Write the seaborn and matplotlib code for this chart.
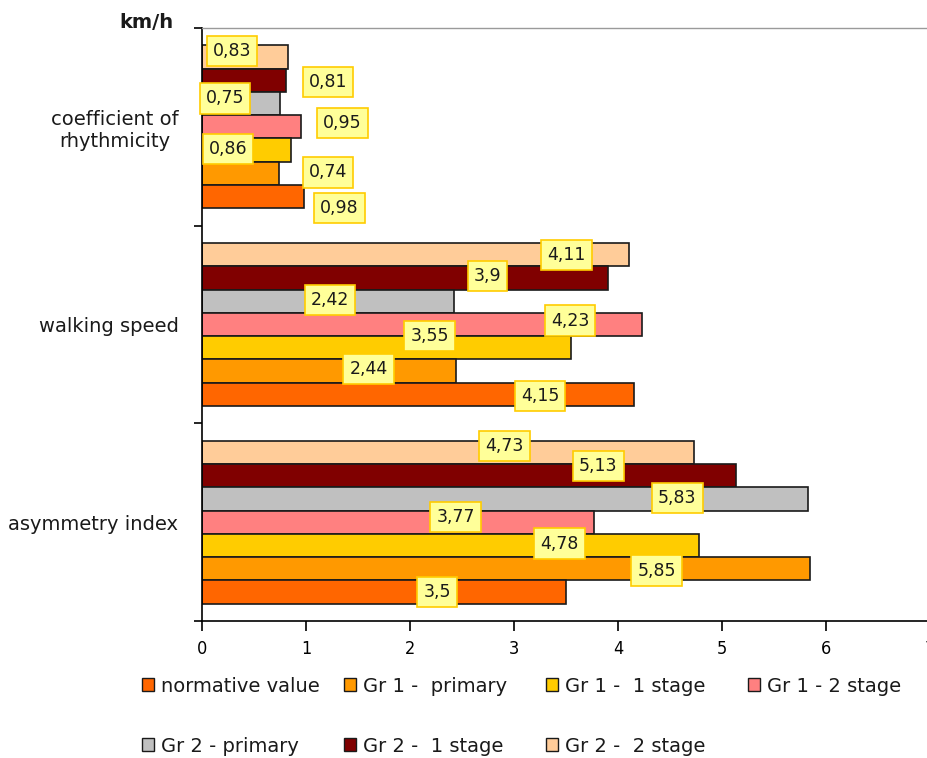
import matplotlib
matplotlib.use("Agg")
import matplotlib.pyplot as plt
from matplotlib.patches import Patch
import seaborn as sns
import pandas as pd

# Indicators (top to bottom) and measured groups
categories = ["coefficient of\nrhythmicity", "walking speed", "asymmetry index"]
series = ["normative value", "Gr 1 -  primary", "Gr 1 -  1 stage", "Gr 1 - 2 stage",
          "Gr 2 - primary", "Gr 2 -  1 stage", "Gr 2 -  2 stage"]

# Values per group, in the order of `categories`
normative = [0.98, 4.15, 3.5]
gr1_primary = [0.74, 2.44, 5.85]
gr1_stage1 = [0.86, 3.55, 4.78]
gr1_stage2 = [0.95, 4.23, 3.77]
gr2_primary = [0.75, 2.42, 5.83]
gr2_stage1 = [0.81, 3.9, 5.13]
gr2_stage2 = [0.83, 4.11, 4.73]

xticks = [0, 1, 2, 3, 4, 5, 6, 7]
unit_label = "km/h"

colors = ["#FF6600", "#FF9900", "#FFCC00", "#FF8080", "#C0C0C0", "#800000", "#FFCC99"]

# Where each value box sits: x in axis units, vertical shift in bar heights
label_x = [
    [1.32, 3.25, 2.26],
    [1.21, 1.60, 4.37],
    [0.25, 2.19, 3.44],
    [1.35, 3.54, 2.44],
    [0.22, 1.23, 4.57],
    [1.21, 2.745, 3.81],
    [0.29, 3.505, 2.91],
]
label_dy = [
    [0.48, 0.08, 0.0],
    [-0.04, -0.08, 0.08],
    [-0.04, -0.52, -0.08],
    [-0.17, -0.17, -0.22],
    [-0.22, -0.04, -0.04],
    [0.08, -0.08, -0.43],
    [-0.26, 0.0, -0.26],
]

values = [normative, gr1_primary, gr1_stage1, gr1_stage2, gr2_primary, gr2_stage1, gr2_stage2]
rows = []
for name, vals in zip(series, values):
    for cat, v in zip(categories, vals):
        rows.append({"indicator": cat, "group": name, "value": v})
df = pd.DataFrame(rows)

palette = dict(zip(series, colors))
hue_order = series[::-1]  # first series drawn at the bottom of each block

plt.rcParams["font.family"] = ["DejaVu Sans"]
fig = plt.figure(figsize=(9.28, 7.58), dpi=100)
ax = fig.add_axes([202 / 928, 1 - 621 / 758, 728 / 928, (621 - 28) / 758])

sns.barplot(data=df, x="value", y="indicator", hue="group", order=categories,
            hue_order=hue_order, palette=palette, orient="h", width=0.824,
            saturation=1, edgecolor="#1a1a1a", linewidth=1.2, errorbar=None,
            legend=False, ax=ax)

ax.set_xlim(0, 7)
ax.set_ylim(2.5, -0.5)
ax.set_xticks(xticks)
ax.set_xticklabels([str(t) for t in xticks], fontsize=13, fontstretch="condensed")
ax.tick_params(axis="x", length=7, width=1.2, direction="out", pad=7)
ax.set_xlabel("")
ax.set_ylabel("")

ax.set_yticks(range(len(categories)))
ax.set_yticklabels(categories, fontsize=14, color="#1a1a1a")
for lbl in ax.get_yticklabels():
    lbl.set_multialignment("center")
ax.tick_params(axis="y", which="major", length=0, pad=17)
ax.set_yticks([-0.5, 0.5, 1.5, 2.5], minor=True)
ax.tick_params(axis="y", which="minor", length=6, width=1.2, direction="out")

for side in ["left", "bottom"]:
    ax.spines[side].set_color("black")
    ax.spines[side].set_linewidth(1.2)
ax.spines["top"].set_color("#9a9a9a")
ax.spines["top"].set_linewidth(1.0)
ax.spines["right"].set_visible(False)

# Value boxes
for k, name in enumerate(hue_order):
    s = series.index(name)
    for j, bar in enumerate(ax.containers[k]):
        v = values[s][j]
        h = bar.get_height()
        yc = bar.get_y() + h / 2 + label_dy[s][j] * h
        txt = f"{v:g}".replace(".", ",")
        ax.text(label_x[s][j], yc, txt, ha="center", va="center", fontsize=12.5,
                color="#1a1a1a", zorder=5,
                bbox=dict(boxstyle="square,pad=0.35", fc="#FFFF99", ec="#FFCC00", lw=1.2))

fig.text(146 / 928, 1 - 22 / 758, unit_label, ha="center", va="center",
         fontsize=14, fontweight="bold", color="#1a1a1a")

# Legend laid out on an even grid, four entries per row
for i, (name, col) in enumerate(zip(series, colors)):
    r, c = divmod(i, 4)
    x = (142 + c * 202) / 928
    y = 1 - (686 + r * 60) / 758
    fig.legend(handles=[Patch(fc=col, ec="#1a1a1a", lw=1.0)], labels=[name],
               loc="center left", bbox_to_anchor=(x, y), frameon=False,
               fontsize=14, handlelength=0.62, handleheight=0.62,
               handletextpad=0.35, borderpad=0, borderaxespad=0,
               labelcolor="#1a1a1a")

fig.savefig("out.png", dpi=100, facecolor="white")
